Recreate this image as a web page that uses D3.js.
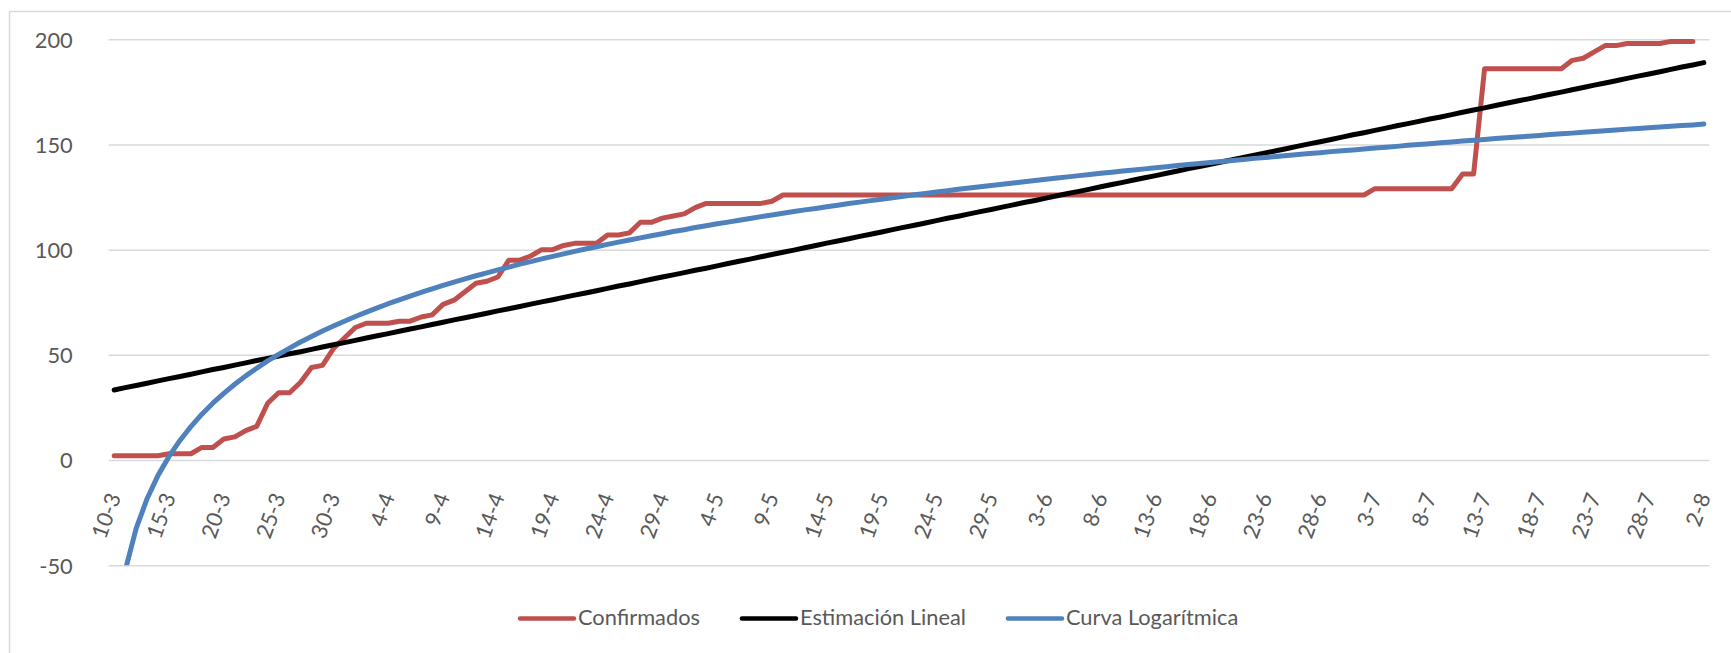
<!DOCTYPE html>
<html>
<head>
<meta charset="utf-8">
<script src="https://cdn.jsdelivr.net/npm/d3@7"></script>
<style>
  html, body { margin: 0; padding: 0; background: #ffffff; }
  svg { display: block; }
</style>
</head>
<body>
<svg id="chart" width="1731" height="653"></svg>
<script>
// ---------------- DATA ----------------
const categories = [
  "10-3","11-3","12-3","13-3","14-3","15-3","16-3","17-3","18-3","19-3","20-3","21-3","22-3","23-3","24-3","25-3","26-3","27-3","28-3","29-3","30-3","31-3",
  "1-4","2-4","3-4","4-4","5-4","6-4","7-4","8-4","9-4","10-4","11-4","12-4","13-4","14-4","15-4","16-4","17-4","18-4","19-4","20-4","21-4","22-4","23-4","24-4","25-4","26-4","27-4","28-4","29-4","30-4",
  "1-5","2-5","3-5","4-5","5-5","6-5","7-5","8-5","9-5","10-5","11-5","12-5","13-5","14-5","15-5","16-5","17-5","18-5","19-5","20-5","21-5","22-5","23-5","24-5","25-5","26-5","27-5","28-5","29-5","30-5","31-5",
  "1-6","2-6","3-6","4-6","5-6","6-6","7-6","8-6","9-6","10-6","11-6","12-6","13-6","14-6","15-6","16-6","17-6","18-6","19-6","20-6","21-6","22-6","23-6","24-6","25-6","26-6","27-6","28-6","29-6","30-6",
  "1-7","2-7","3-7","4-7","5-7","6-7","7-7","8-7","9-7","10-7","11-7","12-7","13-7","14-7","15-7","16-7","17-7","18-7","19-7","20-7","21-7","22-7","23-7","24-7","25-7","26-7","27-7","28-7","29-7","30-7","31-7",
  "1-8","2-8"
];

const tickLabels = ["10-3","15-3","20-3","25-3","30-3","4-4","9-4","14-4","19-4","24-4","29-4","4-5","9-5","14-5","19-5","24-5","29-5","3-6","8-6","13-6","18-6","23-6","28-6","3-7","8-7","13-7","18-7","23-7","28-7","2-8"];

const yTicks = [-50, 0, 50, 100, 150, 200];

const confirmados = [
  2,2,2,2,2,3,3,3,6,6,
  10,11,14,16,27,32,32,37,44,45,
  53,58,63,65,65,65,66,66,68,69,
  74,76,80,84,85,87,95,95,97,100,
  100,102,103,103,103,107,107,108,113,113,
  115,116,117,120,122,122,122,122,122,122,
  123,126,126,126,126,126,126,126,126,126,
  126,126,126,126,126,126,126,126,126,126,
  126,126,126,126,126,126,126,126,126,126,
  126,126,126,126,126,126,126,126,126,126,
  126,126,126,126,126,126,126,126,126,126,
  126,126,126,126,126,129,129,129,129,129,
  129,129,129,136,136,186,186,186,186,186,
  186,186,186,190,191,194,197,197,198,198,
  198,198,199,199,199
];

const estimacionLineal = [
  33.3,34.4,35.4,36.5,37.6,38.7,39.7,40.8,41.9,43.0,
  44.0,45.1,46.2,47.3,48.3,49.4,50.5,51.5,52.6,53.7,
  54.8,55.8,56.9,58.0,59.1,60.1,61.2,62.3,63.3,64.4,
  65.5,66.6,67.6,68.7,69.8,70.9,71.9,73.0,74.1,75.2,
  76.2,77.3,78.4,79.4,80.5,81.6,82.7,83.7,84.8,85.9,
  87.0,88.0,89.1,90.2,91.2,92.3,93.4,94.5,95.5,96.6,
  97.7,98.8,99.8,100.9,102.0,103.1,104.1,105.2,106.3,107.3,
  108.4,109.5,110.6,111.6,112.7,113.8,114.9,115.9,117.0,118.1,
  119.1,120.2,121.3,122.4,123.4,124.5,125.6,126.7,127.7,128.8,
  129.9,131.0,132.0,133.1,134.2,135.2,136.3,137.4,138.5,139.5,
  140.6,141.7,142.8,143.8,144.9,146.0,147.0,148.1,149.2,150.3,
  151.3,152.4,153.5,154.6,155.6,156.7,157.8,158.9,159.9,161.0,
  162.1,163.1,164.2,165.3,166.4,167.4,168.5,169.6,170.7,171.7,
  172.8,173.9,174.9,176.0,177.1,178.2,179.2,180.3,181.4,182.5,
  183.5,184.6,185.7,186.8,187.8,188.9
];

const curvaLogaritmica = [
  -87.0,-52.7,-32.6,-18.4,-7.3,1.7,9.3,15.9,21.8,27.0,
  31.7,36.0,40.0,43.6,47.1,50.2,53.2,56.1,58.7,61.3,
  63.7,66.0,68.2,70.3,72.3,74.3,76.1,77.9,79.7,81.4,
  83.0,84.6,86.1,87.6,89.0,90.4,91.7,93.1,94.3,95.6,
  96.8,98.0,99.2,100.3,101.4,102.5,103.6,104.6,105.6,106.6,
  107.6,108.6,109.5,110.5,111.4,112.3,113.1,114.0,114.8,115.7,
  116.5,117.3,118.1,118.9,119.6,120.4,121.1,121.9,122.6,123.3,
  124.0,124.7,125.4,126.1,126.7,127.4,128.0,128.7,129.3,129.9,
  130.5,131.1,131.7,132.3,132.9,133.5,134.1,134.6,135.2,135.7,
  136.3,136.8,137.4,137.9,138.4,138.9,139.4,140.0,140.5,141.0,
  141.4,141.9,142.4,142.9,143.4,143.8,144.3,144.8,145.2,145.7,
  146.1,146.6,147.0,147.4,147.9,148.3,148.7,149.1,149.6,150.0,
  150.4,150.8,151.2,151.6,152.0,152.4,152.8,153.2,153.6,153.9,
  154.3,154.7,155.1,155.4,155.8,156.2,156.5,156.9,157.3,157.6,
  158.0,158.3,158.7,159.0,159.3,159.7
];

const seriesNames = ["Confirmados", "Estimación Lineal", "Curva Logarítmica"];
const seriesColors = ["#C0504D", "#000000", "#4F81BD"];

// ---------------- LAYOUT ----------------
const FONT = "Lato, 'Open Sans', sans-serif";
const TEXT_COLOR = "#595959";
const GRID_COLOR = "#D9D9D9";
const plot = { left: 108.7, right: 1709.3, top: 39.3, bottom: 565.2 };

const svg = d3.select("#chart");
svg.append("rect").attr("x", 0).attr("y", 0).attr("width", 1731).attr("height", 653).attr("fill", "#fff");

// fit font size so text width matches the reference
const probe = svg.append("text").style("font-family", FONT).style("font-size", "100px").text("Confirmados");
const probeW = probe.node().getComputedTextLength();
probe.remove();
const FS = Math.max(16, Math.min(28, 100 * 122 / probeW));

// chart-area border (only left and top visible in frame)
svg.append("rect")
  .attr("x", 9.5).attr("y", 11.5)
  .attr("width", 1740).attr("height", 660)
  .attr("fill", "none").attr("stroke", GRID_COLOR).attr("stroke-width", 1.5);

const x = d3.scaleBand().domain(d3.range(categories.length)).range([plot.left, plot.right]).padding(0);
const cx = i => x(i) + x.bandwidth() / 2;
const y = d3.scaleLinear().domain([-50, 200]).range([plot.bottom, plot.top]);

// Y axis with gridlines
const yAxis = d3.axisLeft(y)
  .tickValues(yTicks)
  .tickSizeInner(-(plot.right - plot.left))
  .tickSizeOuter(0)
  .tickPadding(36)
  .tickFormat(d => String(d));
const gy = svg.append("g").attr("transform", `translate(${plot.left},0)`).call(yAxis);
gy.select(".domain").remove();
gy.selectAll(".tick line").attr("stroke", GRID_COLOR).attr("stroke-width", 1.5);
gy.selectAll(".tick text")
  .attr("fill", TEXT_COLOR)
  .style("font-family", FONT)
  .style("font-size", FS + "px")
  .attr("dy", "0.36em");

// X axis labels (rotated)
const tickIdx = tickLabels.map(l => categories.indexOf(l));
const gx = svg.append("g").attr("transform", `translate(0,${y(0) + 34})`);
gx.call(d3.axisBottom(x).tickValues(tickIdx).tickSize(0).tickFormat(i => categories[i]));
gx.select(".domain").remove();
gx.selectAll(".tick text")
  .attr("fill", TEXT_COLOR)
  .style("font-family", FONT)
  .style("font-size", FS + "px")
  .attr("x", 0).attr("y", 0).attr("dy", "0.35em")
  .attr("text-anchor", "end")
  .attr("transform", "rotate(-70)");

// Lines
svg.append("clipPath").attr("id", "plotclip")
  .append("rect").attr("x", plot.left - 10).attr("y", 0)
  .attr("width", plot.right - plot.left + 20).attr("height", plot.bottom);

const allSeries = [confirmados, estimacionLineal, curvaLogaritmica];
const line = d3.line().x((d, i) => cx(i)).y(d => y(d));
const gl = svg.append("g").attr("clip-path", "url(#plotclip)");
allSeries.forEach((s, k) => {
  gl.append("path")
    .datum(s)
    .attr("d", line)
    .attr("fill", "none")
    .attr("stroke", seriesColors[k])
    .attr("stroke-width", 5)
    .attr("stroke-linejoin", "round")
    .attr("stroke-linecap", "round");
});

// Legend
const legY = 618.5;
let lx = 520;
const lg = svg.append("g");
seriesNames.forEach((name, k) => {
  lg.append("line")
    .attr("x1", lx).attr("x2", lx + 54)
    .attr("y1", legY).attr("y2", legY)
    .attr("stroke", seriesColors[k]).attr("stroke-width", 4.5)
    .attr("stroke-linecap", "round");
  const t = lg.append("text")
    .attr("x", lx + 58).attr("y", legY - 1.5)
    .attr("dy", "0.35em")
    .attr("fill", TEXT_COLOR)
    .style("font-family", FONT)
    .style("font-size", FS + "px")
    .text(name);
  const w = t.node().getComputedTextLength();
  lx = lx + 58 + w + 42;
});
</script>
</body>
</html>
